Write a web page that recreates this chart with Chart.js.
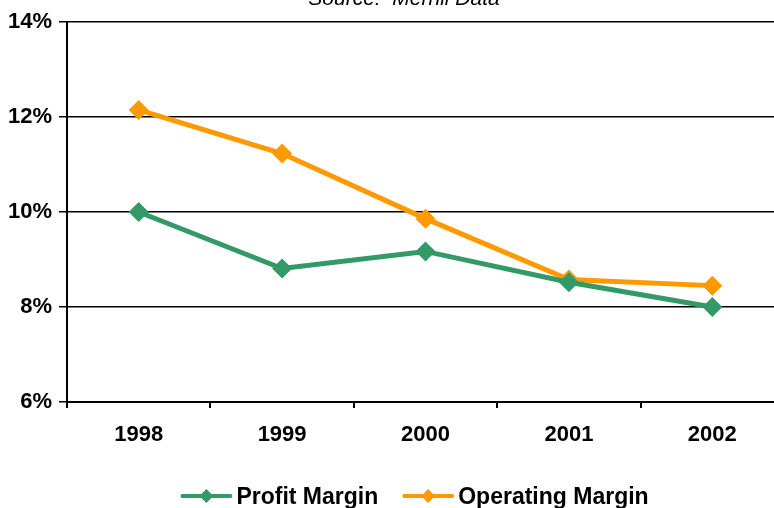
<!DOCTYPE html>
<html>
<head>
<meta charset="utf-8">
<script src="https://cdn.jsdelivr.net/npm/chart.js@4/dist/chart.umd.min.js"></script>
<style>
    html, body { margin: 0; padding: 0; overflow: hidden; background: #fff; }
    #wrap { width: 774px; height: 508px; overflow: hidden; }
</style>
</head>
<body>
<div id="wrap"><canvas id="myChart" width="794" height="508"></canvas></div>
<script>
const years = ['1998', '1999', '2000', '2001', '2002'];
const profitMargin = [10.0, 8.81, 9.17, 8.52, 8.0];
const operatingMargin = [12.15, 11.23, 9.86, 8.58, 8.45];
const yTicks = [6, 8, 10, 12, 14];

const GREEN = '#339966';
const ORANGE = '#FF9900';
const FONT = 'Liberation Sans, Arial, sans-serif';

// source note sits half cut off above the plot
const sourceNote = {
    id: 'sourceNote',
    afterDraw(chart) {
        const ctx = chart.ctx;
        ctx.save();
        ctx.font = 'italic 21px ' + FONT;
        ctx.fillStyle = '#000';
        ctx.textAlign = 'center';
        ctx.textBaseline = 'alphabetic';
        ctx.fillText('Source:  Merrill Data', 404, 5);
        ctx.restore();
    }
};

// legend: line with a diamond, then the label, in one centered row
const lineLegend = {
    id: 'lineLegend',
    afterDraw(chart) {
        const ctx = chart.ctx;
        const y = 496;
        ctx.save();
        ctx.font = 'bold 23px ' + FONT;
        let items = chart.data.datasets.map(ds => ({
            ds: ds,
            w: 56 + ctx.measureText(ds.label).width
        }));
        let total = items.reduce((s, it) => s + it.w, 0) + 24 * (items.length - 1);
        let x = 414.5 - total / 2;
        items.forEach(it => {
            let color = it.ds.borderColor;
            ctx.strokeStyle = color;
            ctx.lineWidth = 4;
            ctx.lineCap = 'round';
            ctx.beginPath();
            ctx.moveTo(x + 2, y);
            ctx.lineTo(x + 50, y);
            ctx.stroke();
            ctx.fillStyle = color;
            ctx.beginPath();
            ctx.moveTo(x + 26, y - 7);
            ctx.lineTo(x + 33, y);
            ctx.lineTo(x + 26, y + 7);
            ctx.lineTo(x + 19, y);
            ctx.closePath();
            ctx.fill();
            ctx.fillStyle = '#000';
            ctx.textAlign = 'left';
            ctx.textBaseline = 'alphabetic';
            ctx.fillText(it.ds.label, x + 56, 504);
            x += it.w + 24;
        });
        ctx.restore();
    }
};

const data = {
    labels: years,
    datasets: [{
        label: 'Profit Margin',
        data: profitMargin,
        borderColor: GREEN,
        backgroundColor: GREEN,
        borderWidth: 5,
        pointStyle: 'rectRot',
        pointRadius: 10,
        pointBorderWidth: 0,
    }, {
        label: 'Operating Margin',
        data: operatingMargin,
        borderColor: ORANGE,
        backgroundColor: ORANGE,
        borderWidth: 5,
        pointStyle: 'rectRot',
        pointRadius: 10,
        pointBorderWidth: 0,
    }]
};

const config = {
    type: 'line',
    data: data,
    options: {
        responsive: false,
        animation: false,
        layout: { padding: { top: 22, left: 0, right: 0, bottom: 30 } },
        plugins: {
            legend: { display: false },
            title: { display: false },
            tooltip: { enabled: false },
        },
        scales: {
            x: {
                offset: true,
                grid: {
                    offset: true,
                    drawOnChartArea: false,
                    drawTicks: true,
                    tickLength: 6,
                    color: '#000',
                    lineWidth: 2,
                },
                border: { color: '#000', width: 2 },
                ticks: {
                    color: '#000',
                    font: { family: FONT, size: 22, weight: 'bold' },
                    padding: 14,
                },
                afterFit(scale) { scale.height = 76; },
            },
            y: {
                min: 6,
                max: 14,
                afterBuildTicks(scale) { scale.ticks = yTicks.map(v => ({ value: v })); },
                grid: {
                    color: '#000',
                    lineWidth: 1.5,
                    tickLength: 8,
                },
                border: { color: '#000', width: 2 },
                ticks: {
                    color: '#000',
                    font: { family: FONT, size: 22, weight: 'bold' },
                    padding: 7,
                    callback: v => v + '%',
                },
                afterFit(scale) { scale.width = 67; },
            }
        }
    },
    plugins: [sourceNote, lineLegend]
};

const myChart = new Chart(document.getElementById('myChart'), config);
</script>
</body>
</html>
